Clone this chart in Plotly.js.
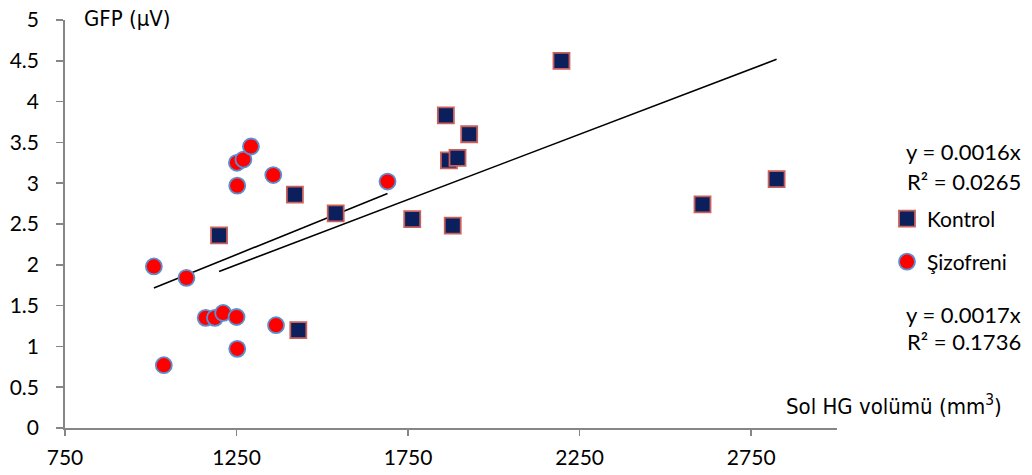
<!DOCTYPE html>
<html>
<head>
<meta charset="utf-8">
<script src="https://cdn.plot.ly/plotly-3.0.1.min.js"></script>
<style>
  html, body { margin: 0; padding: 0; background: #fff; }
  #chart { width: 1032px; height: 475px; }
</style>
</head>
<body>
<div id="chart"></div>
<script>
// Left hippocampal (HG) volume (mm³) vs. GFP (µV)
const kontrolX = [1199, 1420, 1430, 1539, 1762, 1860, 1869, 1880, 1894, 1928, 2197, 2608, 2824];
const kontrolY = [2.36, 2.86, 1.20, 2.63, 2.56, 3.83, 3.28, 2.48, 3.31, 3.60, 4.50, 2.74, 3.05];

const sizoX = [1009, 1038, 1104, 1160, 1187, 1211, 1250, 1251, 1252, 1252, 1270, 1292, 1357, 1365, 1690];
const sizoY = [1.98, 0.77, 1.84, 1.35, 1.35, 1.41, 1.36, 3.25, 2.97, 0.97, 3.29, 3.45, 3.10, 1.26, 3.02];

const seriesNames = ['Kontrol', 'Şizofreni'];
// linear trendlines forced through the origin (y = a·x)
const slopes = [0.0016, 0.0017];
const rSquared = ['0.0265', '0.1736'];

const xTicks = [750, 1250, 1750, 2250, 2750];
const yTicks = [0, 0.5, 1, 1.5, 2, 2.5, 3, 3.5, 4, 4.5, 5];

const tickFont = { family: 'Lato, "Open Sans", sans-serif', size: 21, color: '#000' };
const titleFont = { family: '"DejaVu Sans Condensed", "DejaVu Sans", sans-serif', size: 22, color: '#000' };
const axisGray = '#868686';

function trend(xs, a) {
  const lo = Math.min(...xs), hi = Math.max(...xs);
  return { x: [lo, hi], y: [a * lo, a * hi] };
}
const tK = trend(kontrolX, slopes[0]);
const tS = trend(sizoX, slopes[1]);

const traces = [
  {
    x: tK.x, y: tK.y, mode: 'lines', type: 'scatter',
    line: { color: '#000', width: 1.6 }, showlegend: false, hoverinfo: 'skip'
  },
  {
    x: tS.x, y: tS.y, mode: 'lines', type: 'scatter',
    line: { color: '#000', width: 1.6 }, showlegend: false, hoverinfo: 'skip'
  },
  {
    x: kontrolX, y: kontrolY, name: seriesNames[0], mode: 'markers', type: 'scatter',
    marker: { symbol: 'square', size: 16, color: '#0a1f5c', line: { color: '#c9605c', width: 1.8 } },
    legend: 'legend'
  },
  {
    x: sizoX, y: sizoY, name: seriesNames[1], mode: 'markers', type: 'scatter',
    marker: { symbol: 'circle', size: 16, color: '#ff0000', line: { color: '#5b8fd0', width: 1.8 } },
    legend: 'legend2'
  }
];

// plot area in pixels: x 65..837, y 20..428
const L = 65, R = 837, T = 20, B = 428;
const px = v => (v - L) / (R - L);
const py = v => (B - v) / (B - T);

const eqFont = { family: 'Lato, "Open Sans", sans-serif', size: 22, color: '#000' };
const legFont = { family: 'Lato, "Open Sans", sans-serif', size: 21, color: '#000' };

const layout = {
  width: 1032, height: 475,
  margin: { l: L, r: 1032 - R, t: T, b: 475 - B, pad: 0 },
  paper_bgcolor: '#fff', plot_bgcolor: '#fff',
  xaxis: {
    range: [750, 3000], tickmode: 'array', tickvals: xTicks, ticktext: xTicks.map(String),
    showgrid: false, zeroline: false, showline: true, linecolor: axisGray, linewidth: 1.8,
    ticks: 'outside', ticklen: 6, tickwidth: 1.5, tickcolor: axisGray,
    tickfont: tickFont, ticklabelstandoff: 4
  },
  yaxis: {
    range: [0, 5], tickmode: 'array', tickvals: yTicks, ticktext: yTicks.map(String),
    showgrid: false, zeroline: false, showline: true, linecolor: axisGray, linewidth: 1.8,
    ticks: 'outside', ticklen: 7, tickwidth: 1.5, tickcolor: axisGray,
    tickfont: tickFont, ticklabelstandoff: 13
  },
  legend: {
    x: px(887), y: py(219), xanchor: 'left', yanchor: 'middle',
    font: legFont, bgcolor: 'rgba(0,0,0,0)', borderwidth: 0
  },
  legend2: {
    x: px(887), y: py(262), xanchor: 'left', yanchor: 'middle',
    font: legFont, bgcolor: 'rgba(0,0,0,0)', borderwidth: 0
  },
  annotations: [
    { text: 'GFP (μV)', xref: 'paper', yref: 'paper', x: px(82), y: py(18),
      xanchor: 'left', yanchor: 'middle', showarrow: false, font: titleFont },
    { text: 'Sol HG volümü (mm<sup>3</sup>)', xref: 'paper', yref: 'paper', x: px(1004), y: py(405),
      xanchor: 'right', yanchor: 'middle', showarrow: false, font: titleFont },
    { text: 'y = ' + slopes[0] + 'x', xref: 'paper', yref: 'paper', x: px(1023), y: py(152),
      xanchor: 'right', yanchor: 'middle', showarrow: false, font: eqFont },
    { text: 'R² = ' + rSquared[0], xref: 'paper', yref: 'paper', x: px(1023), y: py(181),
      xanchor: 'right', yanchor: 'middle', showarrow: false, font: eqFont },
    { text: 'y = ' + slopes[1] + 'x', xref: 'paper', yref: 'paper', x: px(1023), y: py(314),
      xanchor: 'right', yanchor: 'middle', showarrow: false, font: eqFont },
    { text: 'R² = ' + rSquared[1], xref: 'paper', yref: 'paper', x: px(1023), y: py(341),
      xanchor: 'right', yanchor: 'middle', showarrow: false, font: eqFont }
  ]
};

Plotly.newPlot('chart', traces, layout, { displayModeBar: false, staticPlot: true });
</script>
</body>
</html>
